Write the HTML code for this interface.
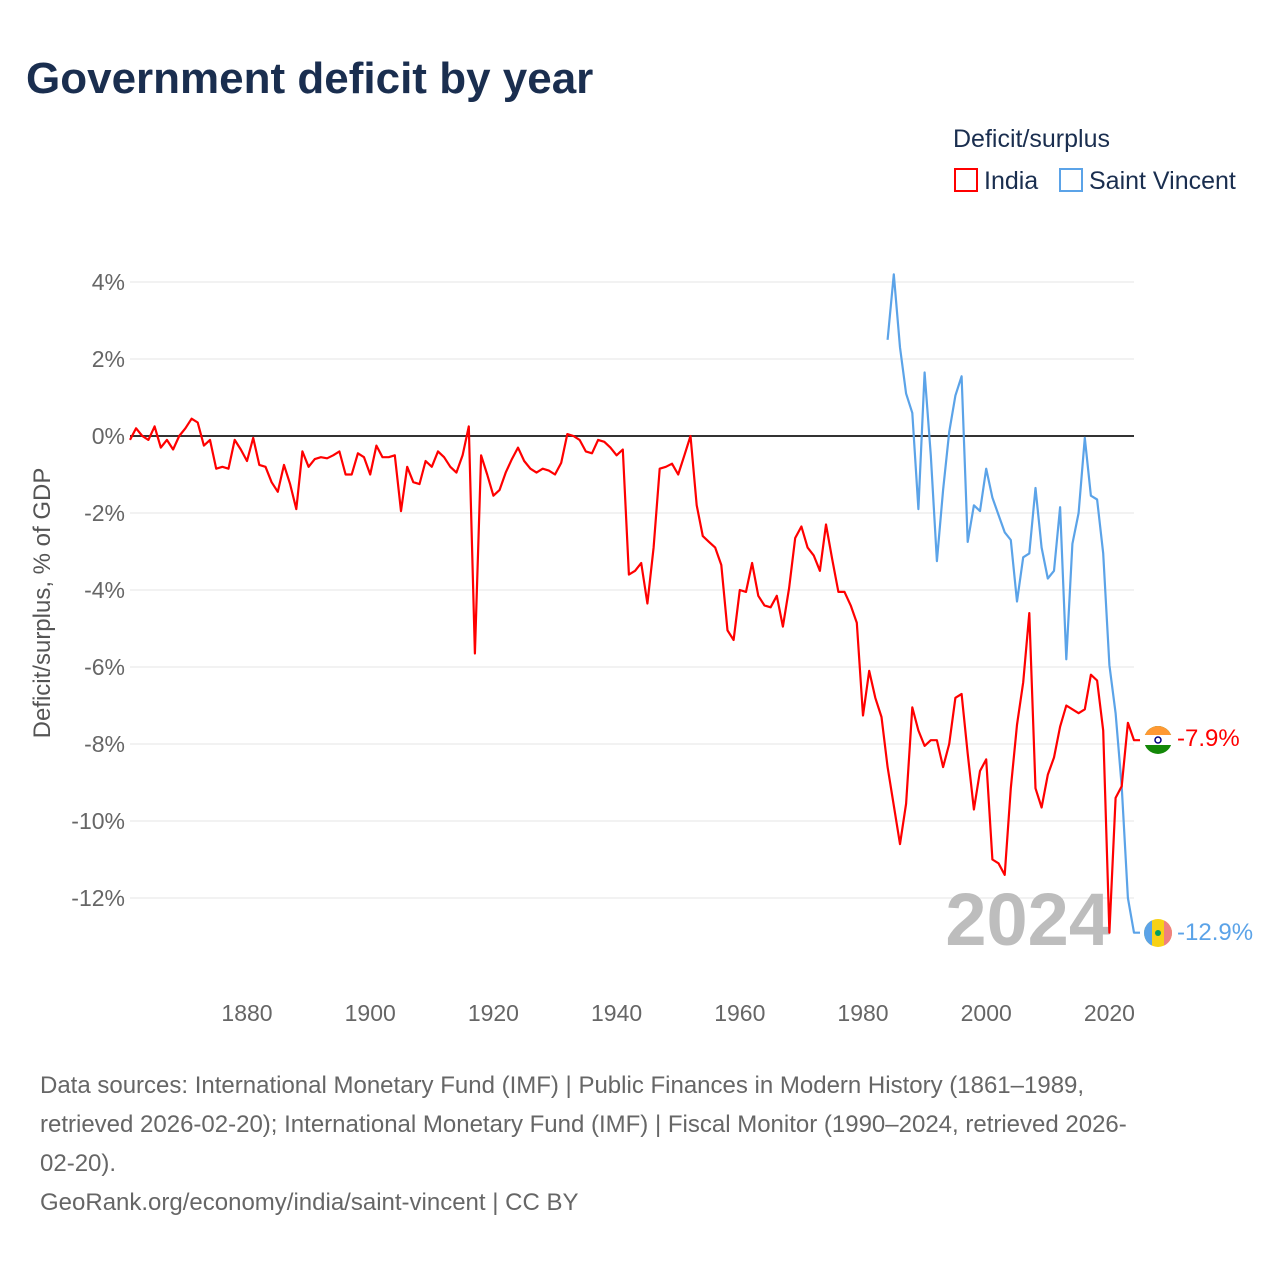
<!DOCTYPE html>
<html><head><meta charset="utf-8"><style>
body{margin:0;background:#fff;font-family:"Liberation Sans",sans-serif;}
</style></head><body>
<svg width="1280" height="1280" viewBox="0 0 1280 1280" xmlns="http://www.w3.org/2000/svg" font-family="Liberation Sans, sans-serif">
<defs><clipPath id="svclip"><circle cx="1158" cy="933" r="14"/></clipPath></defs>
<text x="26" y="93" font-size="44" font-weight="bold" fill="#1a2e4f">Government deficit by year</text>
<text x="953" y="147" font-size="25" fill="#1a2e4f">Deficit/surplus</text>
<rect x="955" y="169" width="22" height="22" fill="none" stroke="#ff0000" stroke-width="2"/>
<text x="984" y="189" font-size="25" fill="#1a2e4f">India</text>
<rect x="1060" y="169" width="22" height="22" fill="none" stroke="#5ba3e8" stroke-width="2"/>
<text x="1089" y="189" font-size="25" fill="#1a2e4f">Saint Vincent</text>
<text transform="translate(50,603) rotate(-90)" text-anchor="middle" font-size="24" fill="#555">Deficit/surplus, % of GDP</text>
<g id="grid"></g>
<g id="xticks"></g>
<text x="1110" y="945" text-anchor="end" font-size="74" font-weight="bold" fill="#bdbdbd">2024</text>
<g id="series"></g>
<g>
<circle cx="1158" cy="740" r="14" fill="#138808"/>
<path d="M1144 740 a14 14 0 0 1 28 0 z" fill="#ff9933"/>
<rect x="1144" y="735" width="28" height="10" fill="#fff"/>
<circle cx="1158" cy="740" r="3" fill="none" stroke="#000080" stroke-width="1.5"/>
<text x="1177" y="746" font-size="24" fill="#ff0000">-7.9%</text>
<g clip-path="url(#svclip)">
<rect x="1144" y="919" width="28" height="28" fill="#f7d116"/>
<rect x="1144" y="919" width="8" height="28" fill="#5ba3e8"/>
<rect x="1164" y="919" width="8" height="28" fill="#f08080"/>
<circle cx="1158" cy="933" r="3" fill="#009e60"/>
</g>
<text x="1177" y="940" font-size="24" fill="#5ba3e8">-12.9%</text>
</g>
<g font-size="24" fill="#666">
<text x="40" y="1093">Data sources: International Monetary Fund (IMF) | Public Finances in Modern History (1861–1989,</text>
<text x="40" y="1132">retrieved 2026-02-20); International Monetary Fund (IMF) | Fiscal Monitor (1990–2024, retrieved 2026-</text>
<text x="40" y="1171">02-20).</text>
<text x="40" y="1210">GeoRank.org/economy/india/saint-vincent | CC BY</text>
</g>
</svg>
<script>
const yTicks=[4,2,0,-2,-4,-6,-8,-10,-12];
const xTicks=[1880,1900,1920,1940,1960,1980,2000,2020];
const indiaStart=1861;
const indiaValues=[-0.1,0.2,0,-0.1,0.25,-0.3,-0.1,-0.35,0,0.2,0.45,0.35,-0.25,-0.1,-0.85,-0.8,-0.85,-0.1,-0.35,-0.65,
-0.05,-0.75,-0.8,-1.2,-1.45,-0.75,-1.25,-1.9,-0.4,-0.8,-0.6,-0.55,-0.58,-0.5,-0.4,-1.0,-1.0,-0.45,-0.55,-1.0,
-0.25,-0.55,-0.55,-0.5,-1.95,-0.8,-1.2,-1.25,-0.65,-0.8,-0.4,-0.55,-0.8,-0.95,-0.5,0.25,-5.65,-0.5,-1.0,-1.55,
-1.4,-0.95,-0.6,-0.3,-0.65,-0.85,-0.95,-0.85,-0.9,-1.0,-0.7,0.05,0,-0.1,-0.4,-0.45,-0.1,-0.15,-0.3,-0.5,
-0.35,-3.6,-3.5,-3.3,-4.35,-2.9,-0.85,-0.8,-0.72,-1.0,-0.5,0,-1.8,-2.6,-2.75,-2.9,-3.35,-5.05,-5.3,-4.0,
-4.05,-3.3,-4.15,-4.4,-4.45,-4.15,-4.95,-3.95,-2.65,-2.35,-2.9,-3.1,-3.5,-2.3,-3.2,-4.05,-4.05,-4.4,-4.85,-7.26,
-6.1,-6.8,-7.3,-8.6,-9.6,-10.6,-9.55,-7.05,-7.65,-8.05,-7.9,-7.9,-8.6,-8.0,-6.8,-6.7,-8.25,-9.7,-8.7,-8.4,
-11.0,-11.1,-11.4,-9.15,-7.5,-6.4,-4.6,-9.15,-9.65,-8.8,-8.35,-7.55,-7.0,-7.1,-7.2,-7.1,-6.2,-6.35,-7.65,-12.9,
-9.4,-9.1,-7.45,-7.9];
const svgStart=1984;
const svgValues=[2.5,4.2,2.3,1.1,0.6,-1.9,1.65,-0.5,-3.25,-1.4,0.1,1.05,1.55,-2.75,-1.8,-1.95,-0.85,-1.6,-2.05,-2.5,
-2.7,-4.3,-3.15,-3.05,-1.35,-2.9,-3.7,-3.5,-1.85,-5.8,-2.8,-2.0,-0.05,-1.55,-1.65,-3.05,-5.95,-7.2,-9.1,-12.0,-12.9];
const NS='http://www.w3.org/2000/svg';
function xS(yr){return 247+(yr-1880)*6.16;}
function yS(v){return 436-v*38.5;}
const grid=document.getElementById('grid');
yTicks.forEach(t=>{
  const l=document.createElementNS(NS,'line');
  
  
  l.setAttribute('x1',130);l.setAttribute('x2',1134);
  l.setAttribute('y1',yS(t));l.setAttribute('y2',yS(t));
  l.setAttribute('stroke',t===0?'#333':'#e6e6e6');
  l.setAttribute('stroke-width',t===0?2:1);
  grid.appendChild(l);
  const tx=document.createElementNS(NS,'text');
  
  
  tx.setAttribute('x',125);tx.setAttribute('y',yS(t)+8);
  tx.setAttribute('text-anchor','end');tx.setAttribute('font-size','23');tx.setAttribute('fill','#666');
  tx.textContent=t+'%';
  grid.appendChild(tx);
});
const xt=document.getElementById('xticks');
xTicks.forEach(t=>{
  const tx=document.createElementNS(NS,'text');
  
  
  tx.setAttribute('x',xS(t));tx.setAttribute('y',1021);
  tx.setAttribute('text-anchor','middle');tx.setAttribute('font-size','23');tx.setAttribute('fill','#666');
  tx.textContent=t;
  xt.appendChild(tx);
});
const ser=document.getElementById('series');
function line(start,vals,color,name){
  const pts=vals.map((v,i)=>xS(start+i).toFixed(1)+','+yS(v).toFixed(1));
  const last=vals[vals.length-1];
  pts.push((xS(start+vals.length-1)+6).toFixed(1)+','+yS(last).toFixed(1));
  const p=document.createElementNS(NS,'polyline');
  
  
  p.setAttribute('points',pts.join(' '));
  p.setAttribute('fill','none');p.setAttribute('stroke',color);p.setAttribute('stroke-width','2.2');
  p.setAttribute('stroke-linejoin','round');
  ser.appendChild(p);
}
line(svgStart,svgValues,'#5ba3e8','saint-vincent-line');
line(indiaStart,indiaValues,'#ff0000','india-line');
</script>
</body></html>
